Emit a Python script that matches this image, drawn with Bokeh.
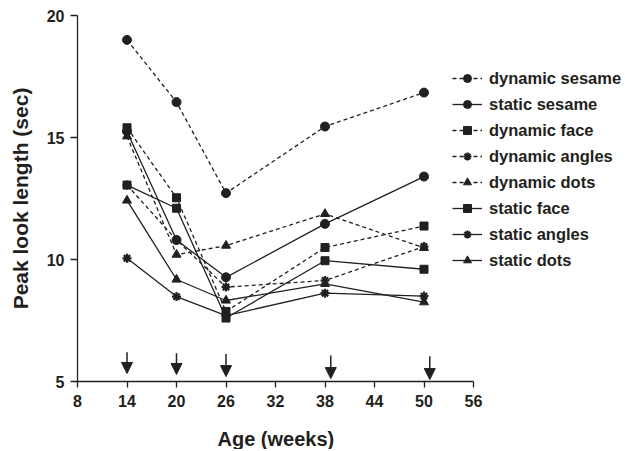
from bokeh.plotting import figure
from bokeh.models import (Range1d, FixedTicker, Legend, LegendItem, Title,
                          Arrow, NormalHead, ColumnDataSource)
from bokeh.embed import file_html
from bokeh.resources import INLINE

# ---- data ----
ages = [14, 20, 26, 38, 50]
dynamic_sesame = [19.0, 16.45, 12.72, 15.45, 16.84]
static_sesame = [15.25, 10.8, 9.27, 11.46, 13.4]
dynamic_face = [15.4, 12.53, 7.87, 10.49, 11.37]
dynamic_angles = [13.05, 10.8, 8.87, 9.14, 10.53]
dynamic_dots = [15.05, 10.2, 10.57, 11.87, 10.48]
static_face = [13.05, 12.1, 7.6, 9.95, 9.6]
static_angles = [10.05, 8.48, 7.7, 8.62, 8.5]
static_dots = [12.42, 9.18, 8.32, 9.0, 8.25]

arrow_x = [14, 20, 26, 38.7, 50.7]
arrow_top = [6.20, 6.16, 6.13, 6.07, 6.03]
arrow_tip = [5.33, 5.29, 5.20, 5.12, 5.08]

x_ticks = [8, 14, 20, 26, 32, 38, 44, 50, 56]
y_ticks = [5, 10, 15, 20]
X_MIN, X_MAX = 8, 56
Y_MIN, Y_MAX = 5, 20

series = [
    ("dynamic sesame", dynamic_sesame, "dashed", "circle"),
    ("static sesame", static_sesame, "solid", "circle"),
    ("dynamic face", dynamic_face, "dashed", "square"),
    ("dynamic angles", dynamic_angles, "dashed", "asterisk"),
    ("dynamic dots", dynamic_dots, "dashed", "triangle"),
    ("static face", static_face, "solid", "square"),
    ("static angles", static_angles, "solid", "asterisk"),
    ("static dots", static_dots, "solid", "triangle"),
]

INK = "#231f20"
FONT = "Liberation Sans"

AXIS_PX = 396          # pixel length of the 8..56 axis
FRAME_W = 546          # frame extends right to hold the legend
x_end = X_MIN + (X_MAX - X_MIN) * FRAME_W / AXIS_PX

p = figure(output_backend="svg", toolbar_location=None,
           frame_width=FRAME_W, frame_height=366,
           min_border_left=77, min_border_top=15,
           min_border_right=0, min_border_bottom=0,
           x_range=Range1d(X_MIN, x_end), y_range=Range1d(Y_MIN, Y_MAX))
p.outline_line_color = None
p.xgrid.visible = False
p.ygrid.visible = False
p.background_fill_color = "white"
p.border_fill_color = "white"

for ax in (p.xaxis[0], p.yaxis[0]):
    ax.axis_line_color = INK
    ax.axis_line_width = 1.3
    ax.major_tick_line_color = INK
    ax.major_tick_line_width = 1.3
    ax.minor_tick_line_color = None
    ax.major_tick_in = 0
    ax.major_label_text_font = FONT
    ax.major_label_text_font_style = "bold"
    ax.major_label_text_font_size = "16px"
    ax.major_label_text_color = INK

p.xaxis[0].bounds = (X_MIN, X_MAX)
p.xaxis[0].ticker = FixedTicker(ticks=x_ticks)
p.yaxis[0].ticker = FixedTicker(ticks=y_ticks)
p.xaxis[0].major_tick_out = 6
p.xaxis[0].major_label_standoff = 7
p.yaxis[0].major_tick_out = 7
p.yaxis[0].major_label_standoff = 6

p.yaxis[0].axis_label = "Peak look length (sec)"
p.yaxis[0].axis_label_text_font = FONT
p.yaxis[0].axis_label_text_font_style = "bold"
p.yaxis[0].axis_label_text_font_size = "21px"
p.yaxis[0].axis_label_text_color = INK
p.yaxis[0].axis_label_standoff = 12

# gap between tick labels and the x label
p.xaxis[0].axis_label = " "
p.xaxis[0].axis_label_text_font_size = "1px"
p.xaxis[0].axis_label_standoff = 12

# x label: centred under the 8..56 axis (the frame is wider to host the legend)
p.add_layout(Title(text="Age (weeks)", align="left", offset=140,
                   vertical_align="bottom", standoff=0,
                   text_font=FONT, text_font_style="bold",
                   text_font_size="20px", text_color=INK), "below")

items = []
for name, vals, dash, marker in series:
    src = ColumnDataSource(dict(x=ages, y=vals))
    lr = p.line("x", "y", source=src, line_color=INK, line_width=1.3,
                line_dash=("4 3" if dash == "dashed" else "solid"))
    if marker == "asterisk":
        sr = p.scatter("x", "y", source=src, marker="asterisk", size=9,
                       line_color=INK, line_width=2.2)
    else:
        size = {"circle": 9, "square": 8, "triangle": 9}[marker]
        sr = p.scatter("x", "y", source=src, marker=marker, size=size,
                       fill_color=INK, line_color=INK)
    items.append(LegendItem(label=name, renderers=[lr, sr]))

legend = Legend(items=items, location=(375, 111), padding=0, margin=0,
                border_line_color=None, background_fill_alpha=0,
                glyph_width=30, glyph_height=20, label_height=20, spacing=6,
                label_standoff=7, label_text_font=FONT,
                label_text_font_style="bold", label_text_font_size="16.5px",
                label_text_color=INK)
p.add_layout(legend, "center")

asrc = ColumnDataSource(dict(x=arrow_x, top=arrow_top, tip=arrow_tip))
p.add_layout(Arrow(x_start="x", y_start="top", x_end="x", y_end="tip", source=asrc,
                   line_color=INK, line_width=1.5,
                   end=NormalHead(size=11, fill_color=INK, line_color=INK)))

open("out.html", "w").write(file_html(p, INLINE))
